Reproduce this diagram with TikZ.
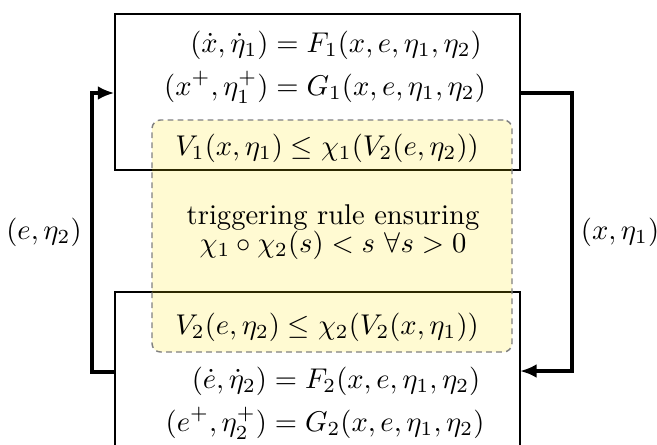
\documentclass[tikz,border=0pt]{standalone}
\usepackage{amsmath,amssymb}
\usetikzlibrary{arrows.meta,calc}
\setlength{\jot}{2pt}
\begin{document}
\begin{tikzpicture}[x=0.35pt,y=-0.35pt,
  sysbox/.style={draw=black,line width=0.4pt,rectangle,inner sep=0pt},
  trig/.style={draw=gray,dash pattern=on 2pt off 1.5pt,rounded corners=3pt,fill=yellow!85!orange,fill opacity=0.18,text opacity=1,line width=0.5pt},
  flow/.style={line width=1.15pt,-{Latex[length=5.8pt,width=4.8pt]}},
  lbl/.style={inner sep=0pt}]
\useasboundingbox (0,0) rectangle (657,444);
% boxes
\node[sysbox,minimum width=141.75pt,minimum height=54.6pt] (top) at (317.5,92) {};
\draw[line width=0.4pt] (115,470) -- (115,292) -- (520,292) -- (520,470);
\coordinate (botw) at (115,372);
\coordinate (bote) at (520,371);
% trigger box
\node[trig,minimum width=126pt,minimum height=81.2pt] (trg) at (332,236) {};
% texts
\node[lbl] (eq1) at (325,67) {$\begin{aligned}(\dot x,\dot\eta_1)&=F_1(x,e,\eta_1,\eta_2)\\(x^+,\eta_1^+)&=G_1(x,e,\eta_1,\eta_2)\end{aligned}$};
\node[lbl] (eq2) at (325,403) {$\begin{aligned}(\dot e,\dot\eta_2)&=F_2(x,e,\eta_1,\eta_2)\\(e^+,\eta_2^+)&=G_2(x,e,\eta_1,\eta_2)\end{aligned}$};
\node[lbl] (v1) at (327,148) {$V_1(x,\eta_1)\le\chi_1(V_2(e,\eta_2))$};
\node[lbl] (v2) at (327,327) {$V_2(e,\eta_2)\le\chi_2(V_2(x,\eta_1))$};
\node[lbl,align=center] (rule) at (333,232) {triggering rule ensuring\\[-2pt]$\chi_1\circ\chi_2(s)<s\ \forall s>0$};
\node[lbl] (le) at (44,232) {$(e,\eta_2)$};
\node[lbl] (lx) at (620,232) {$(x,\eta_1)$};
% connectors
\coordinate (cl) at (92,93);
\coordinate (cr) at (572,371);
\draw[flow] (botw) -| (cl) -- (top.west |- cl);
\draw[flow] (top.east |- cl) -| (cr) -- (bote);
\end{tikzpicture}
\end{document}
